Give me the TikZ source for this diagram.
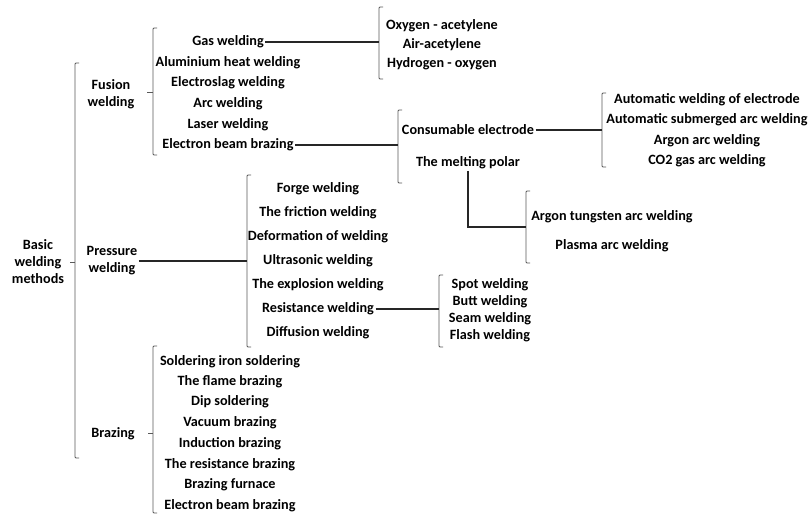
\documentclass[tikz,border=0pt]{standalone}
\usepackage{fontspec}
\setmainfont{Carlito}
\newcommand{\sqbr}[3]{\draw[brk] (#1+4,#2) -- (#1,#2) -- (#1,#3) -- (#1+4,#3);}
\begin{document}
\begin{tikzpicture}[x=1pt,y=-1pt,
  lbl/.style={font=\bfseries\fontsize{14.2}{17}\selectfont, inner sep=1.5pt, align=center, text=black},
  brk/.style={draw=black!65, line width=0.8pt, rounded corners=1pt},
  conn/.style={draw=black!85, line width=1.2pt}]
\useasboundingbox[fill=white] (0,0) rectangle (809,514);

% level 0
\node[lbl] (basic) at (38,262) {Basic\\welding\\methods};
\sqbr{75}{63}{458}
\draw[brk] (70,262) -- (75,262);

% level 1
\node[lbl] (fusion) at (111,94) {Fusion\\welding};
\node[lbl] (pressure) at (112,261) {Pressure\\welding};
\node[lbl] (brazing) at (113,434) {Brazing};

% fusion items
\sqbr{153}{28}{155}
\draw[brk] (147,92) -- (153,92);
\node[lbl] (gas) at (228,42) {Gas welding};
\node[lbl] (alu) at (228,63) {Aluminium heat welding};
\node[lbl] (eslag) at (228,83) {Electroslag welding};
\node[lbl] (arc) at (228,104) {Arc welding};
\node[lbl] (laser) at (228,125) {Laser welding};
\node[lbl] (ebb) at (228,145) {Electron beam brazing};

% gas sub
\sqbr{379}{7}{79}
\coordinate (bO) at (379,42);
\node[lbl] (oxy) at (442,26) {Oxygen - acetylene};
\node[lbl] (air) at (442,45) {Air-acetylene};
\node[lbl] (hyd) at (442,64) {Hydrogen - oxygen};
\draw[conn] (gas.east) -- (bO);

% arc sub
\sqbr{398}{110}{183}
\coordinate (bC) at (398,145);
\node[lbl] (cons) at (468,130) {Consumable electrode};
\node[lbl] (melt) at (468,163) {The melting polar};
\draw[conn] (ebb.east) -- (bC);

\sqbr{602}{93}{167}
\coordinate (bA) at (602,130);
\node[lbl] (auto1) at (707,100) {Automatic welding of electrode};
\node[lbl] (auto2) at (707,120) {Automatic submerged arc welding};
\node[lbl] (argon) at (707,141) {Argon arc welding};
\node[lbl] (co2) at (707,161) {CO2 gas arc welding};
\draw[conn] (cons.east) -- (bA);

\sqbr{526}{191}{263}
\coordinate (bT) at (526,227);
\node[lbl] (atig) at (612,217) {Argon tungsten arc welding};
\node[lbl] (plasma) at (612,246) {Plasma arc welding};
\draw[conn] (melt.south) |- (bT);

% pressure items
\sqbr{247}{175}{347}
\coordinate (bP) at (247,261);
\node[lbl] (forge) at (318,189) {Forge welding};
\node[lbl] (fric) at (318,213) {The friction welding};
\node[lbl] (deform) at (318,237) {Deformation of welding};
\node[lbl] (ultra) at (318,261) {Ultrasonic welding};
\node[lbl] (expl) at (318,285) {The explosion welding};
\node[lbl] (res) at (318,309) {Resistance welding};
\node[lbl] (diff) at (318,333) {Diffusion welding};
\draw[conn] (pressure.east) -- (bP);

\sqbr{439}{275}{347}
\coordinate (bS) at (439,309);
\node[lbl] (spot) at (490,285) {Spot welding};
\node[lbl] (butt) at (490,302) {Butt welding};
\node[lbl] (seam) at (490,319) {Seam welding};
\node[lbl] (flash) at (490,336) {Flash welding};
\draw[conn] (res.east) -- (bS);

% brazing items
\sqbr{153}{346}{513}
\draw[brk] (148,433) -- (153,433);
\node[lbl] (solder) at (230,362) {Soldering iron soldering};
\node[lbl] (flame) at (230,382) {The flame brazing};
\node[lbl] (dip) at (230,402) {Dip soldering};
\node[lbl] (vac) at (230,423) {Vacuum brazing};
\node[lbl] (induct) at (230,444) {Induction brazing};
\node[lbl] (rbraz) at (230,465) {The resistance brazing};
\node[lbl] (furn) at (230,485) {Brazing furnace};
\node[lbl] (ebb2) at (230,506) {Electron beam brazing};
\end{tikzpicture}
\end{document}
